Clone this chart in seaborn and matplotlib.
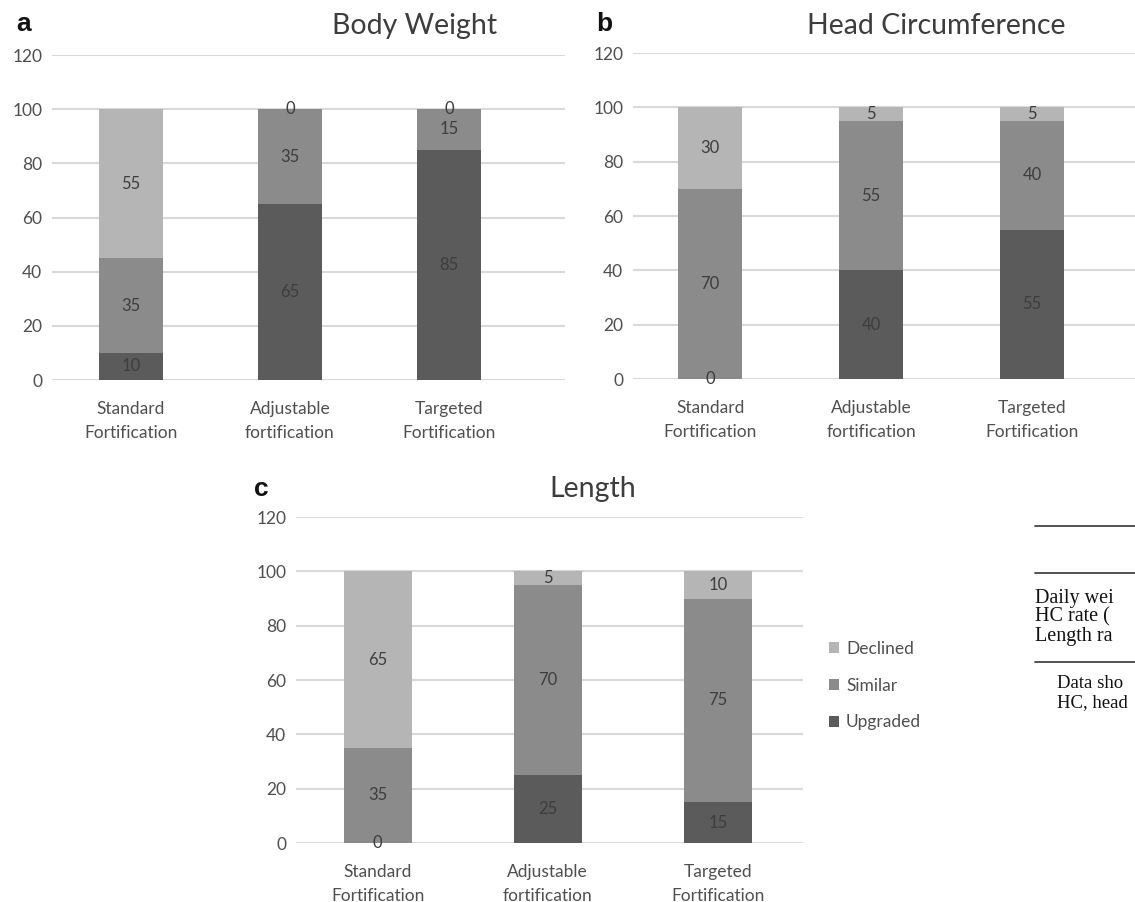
import matplotlib
matplotlib.use("Agg")
import matplotlib.pyplot as plt
import seaborn as sns
from matplotlib.patches import Patch
from matplotlib.lines import Line2D

# categories and stacked values (percent of infants)
categories = ["Standard\nFortification", "Adjustable\nfortification", "Targeted\nFortification"]
series_names = ["Upgraded", "Similar", "Declined"]

weight_upgraded = [10, 65, 85]
weight_similar = [35, 35, 15]
weight_declined = [55, 0, 0]

hc_upgraded = [0, 40, 55]
hc_similar = [70, 55, 40]
hc_declined = [30, 5, 5]

length_upgraded = [0, 25, 15]
length_similar = [35, 70, 75]
length_declined = [65, 5, 10]

y_ticks = [0, 20, 40, 60, 80, 100, 120]

# fragment of the neighbouring table on the scanned page
table_rows = ["Daily wei", "HC rate (", "Length ra"]
table_note = ["Data sho", "HC, head"]

colors = {"Upgraded": "#5b5b5b", "Similar": "#8b8b8b", "Declined": "#b5b5b5"}
text_dark = "#3d3d3d"
tick_grey = "#4f4f4f"

sns.set_theme(style="white")
plt.rcParams["font.family"] = ["Lato", "DejaVu Sans"]


def stacked_panel(ax, upgraded, similar, declined, xlim):
    parts = {"Upgraded": upgraded, "Similar": similar, "Declined": declined}
    # cumulative tops, drawn largest first so the stack shows through
    tops = {}
    running = [0] * len(categories)
    for name in series_names:
        running = [r + v for r, v in zip(running, parts[name])]
        tops[name] = running
    for name in reversed(series_names):
        sns.barplot(x=categories, y=tops[name], color=colors[name], width=0.4,
                    saturation=1, errorbar=None, ax=ax, zorder=2,
                    linewidth=0, edgecolor="none")

    # value labels in the middle of each segment
    for name in series_names:
        for i, (top, val) in enumerate(zip(tops[name], parts[name])):
            ax.text(i, top - val / 2, str(val), ha="center", va="center",
                    fontsize=12, color=text_dark, zorder=3)

    ax.set_ylim(0, 120)
    ax.set_xlim(*xlim)
    ax.set_yticks(y_ticks)
    ax.grid(axis="y", color="#d9d9d9", lw=1.5, zorder=0)
    ax.grid(axis="x", visible=False)
    ax.set_axisbelow(True)
    sns.despine(ax=ax, left=True, bottom=True)
    ax.tick_params(axis="y", length=0, pad=7, labelsize=12.5, labelcolor=tick_grey)
    ax.tick_params(axis="x", length=0, pad=15, labelsize=12.5, labelcolor=tick_grey)
    for lab in ax.get_xticklabels():
        lab.set_linespacing(1.6)
    ax.set_xlabel("")
    ax.set_ylabel("")


fig = plt.figure(figsize=(11.35, 9.02), dpi=100)

ax_a = fig.add_axes([0.0458, 0.5787, 0.452, 0.3603])
ax_b = fig.add_axes([0.5577, 0.5798, 0.4423, 0.3614])
ax_c = fig.add_axes([0.2608, 0.0654, 0.4467, 0.3614])

stacked_panel(ax_a, weight_upgraded, weight_similar, weight_declined, (-0.497, 2.73))
stacked_panel(ax_b, hc_upgraded, hc_similar, hc_declined, (-0.48, 2.64))
stacked_panel(ax_c, length_upgraded, length_similar, length_declined, (-0.48, 2.5))

# chart titles
fig.text(415 / 1135, 1 - 26 / 902, "Body Weight", ha="center", va="center",
         fontsize=20.5, color=text_dark)
fig.text(936 / 1135, 1 - 26 / 902, "Head Circumference", ha="center", va="center",
         fontsize=20.5, color=text_dark)
fig.text(593 / 1135, 1 - 489 / 902, "Length", ha="center", va="center",
         fontsize=20.5, color=text_dark)

# panel letters
for letter, x, y in [("a", 24, 24), ("b", 604, 24), ("c", 261, 489)]:
    fig.text(x / 1135, 1 - y / 902, letter, ha="center", va="center",
             fontsize=19, fontweight="bold", color="#111111",
             family=["Liberation Sans", "DejaVu Sans"])

# legend for panel c
handles = [Patch(facecolor=colors[n], edgecolor="none") for n in ["Declined", "Similar", "Upgraded"]]
fig.legend(handles, ["Declined", "Similar", "Upgraded"], loc="upper left",
           bbox_to_anchor=(0.7225, 1 - 632 / 902), frameon=False, borderpad=0,
           handlelength=0.6, handleheight=0.6, handletextpad=0.4,
           labelspacing=1.2, fontsize=12.5, labelcolor=tick_grey)

# table fragment at the right page edge
for y in [526, 573, 662]:
    fig.add_artist(Line2D([1035 / 1135, 1.0], [1 - y / 902, 1 - y / 902],
                          color="#444444", lw=1.3, transform=fig.transFigure))
for txt, y in zip(table_rows, [598, 617, 636]):
    fig.text(1035 / 1135, 1 - y / 902, txt, ha="left", va="center", fontsize=14.5,
             color="#111111", family=["Liberation Serif", "DejaVu Serif"])
for txt, y in zip(table_note, [684, 703]):
    fig.text(1057 / 1135, 1 - y / 902, txt, ha="left", va="center", fontsize=13.5,
             color="#111111", family=["Liberation Serif", "DejaVu Serif"])

fig.savefig("out.png", dpi=100)
